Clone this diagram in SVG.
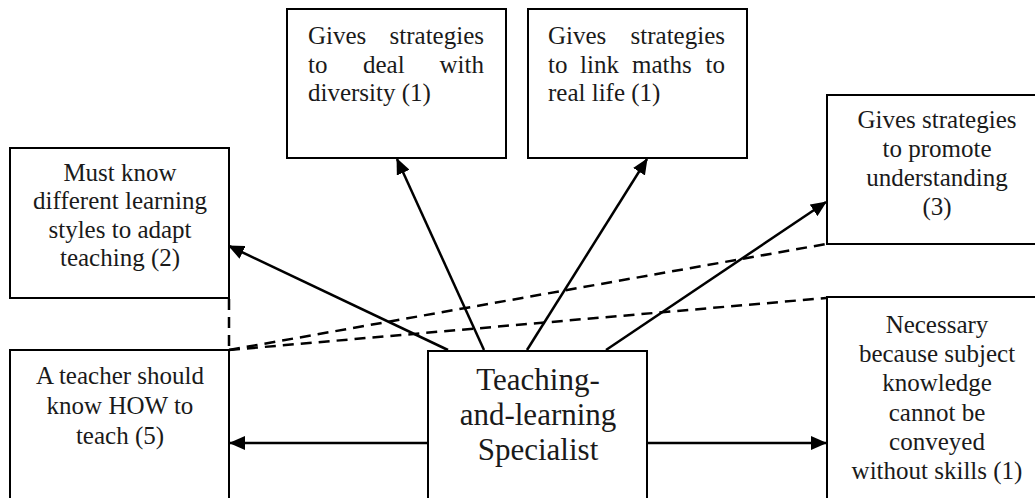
<svg xmlns="http://www.w3.org/2000/svg" width="1035" height="498" viewBox="0 0 1035 498">
  <style>
    .box { fill: #fff; stroke: #000; stroke-width: 2; }
    .t { font-family: "Liberation Serif", "Times New Roman", serif; font-size: 25px; fill: #1a1a1a; }
    .c { text-anchor: middle; }
    .big { font-size: 31px; }
    .arrow { stroke: #000; stroke-width: 2.5; fill: none; marker-end: url(#head); }
    .plain { stroke: #000; stroke-width: 2.5; fill: none; }
    .dash { stroke: #000; stroke-width: 2.5; fill: none; stroke-dasharray: 11 7; }
  </style>
  <defs>
    <marker id="head" markerUnits="userSpaceOnUse" markerWidth="16" markerHeight="14" refX="15" refY="7" orient="auto">
      <path d="M0,0 L16,7 L0,14 Z" fill="#000"/>
    </marker>
  </defs>

  <rect width="1035" height="498" fill="#fff"/>

  <!-- nodes -->
  <g id="learning-styles">
    <rect class="box" x="10" y="148" width="219" height="150"/>
    <text class="t c" x="120" y="181">Must know</text>
    <text class="t c" x="120" y="209">different learning</text>
    <text class="t c" x="120" y="238">styles to adapt</text>
    <text class="t c" x="120" y="266">teaching (2)</text>
  </g>

  <g id="know-how">
    <rect class="box" x="10" y="350" width="219" height="170"/>
    <text class="t c" x="120" y="384">A teacher should</text>
    <text class="t c" x="120" y="414">know HOW to</text>
    <text class="t c" x="120" y="444">teach (5)</text>
  </g>

  <g id="diversity">
    <rect class="box" x="287" y="9" width="219" height="149"/>
    <text class="t" y="44"><tspan x="308">Gives</tspan><tspan x="484" text-anchor="end">strategies</tspan></text>
    <text class="t" y="73"><tspan x="308">to</tspan><tspan x="363">deal</tspan><tspan x="484" text-anchor="end">with</tspan></text>
    <text class="t" x="308" y="101">diversity (1)</text>
  </g>

  <g id="real-life">
    <rect class="box" x="528" y="9" width="219" height="149"/>
    <text class="t" y="44"><tspan x="548">Gives</tspan><tspan x="725" text-anchor="end">strategies</tspan></text>
    <text class="t" y="73"><tspan x="548">to</tspan><tspan x="580">link</tspan><tspan x="632">maths</tspan><tspan x="725" text-anchor="end">to</tspan></text>
    <text class="t" x="548" y="101">real life (1)</text>
  </g>

  <g id="understanding">
    <rect class="box" x="827" y="95" width="230" height="149"/>
    <text class="t c" x="937" y="128">Gives strategies</text>
    <text class="t c" x="937" y="157">to promote</text>
    <text class="t c" x="937" y="186">understanding</text>
    <text class="t c" x="937" y="215">(3)</text>
  </g>

  <g id="necessary">
    <rect class="box" x="827" y="297" width="230" height="230"/>
    <text class="t c" x="937" y="333">Necessary</text>
    <text class="t c" x="937" y="362">because subject</text>
    <text class="t c" x="937" y="391">knowledge</text>
    <text class="t c" x="937" y="421">cannot be</text>
    <text class="t c" x="937" y="450">conveyed</text>
    <text class="t c" x="937" y="479">without skills (1)</text>
  </g>

  <g id="specialist">
    <rect class="box" x="428" y="351" width="219" height="170"/>
    <text class="t c big" x="538" y="390">Teaching-</text>
    <text class="t c big" x="538" y="425">and-learning</text>
    <text class="t c big" x="538" y="460">Specialist</text>
  </g>

  <!-- connectors -->
  <g id="connectors">
    <line class="arrow" x1="448" y1="350" x2="229" y2="246"/>
    <line class="arrow" x1="484" y1="350" x2="397" y2="159"/>
    <line class="arrow" x1="527" y1="350" x2="647" y2="159"/>
    <line class="arrow" x1="606" y1="350" x2="826" y2="202"/>
    <line class="arrow" x1="428" y1="443" x2="230" y2="443"/>
    <line class="arrow" x1="647" y1="443" x2="826" y2="443"/>
    <line class="dash" x1="229" y1="299" x2="229" y2="350"/>
    <line class="dash" x1="229" y1="350" x2="826" y2="244"/>
    <line class="dash" x1="229" y1="350" x2="826" y2="298"/>
  </g>
</svg>
